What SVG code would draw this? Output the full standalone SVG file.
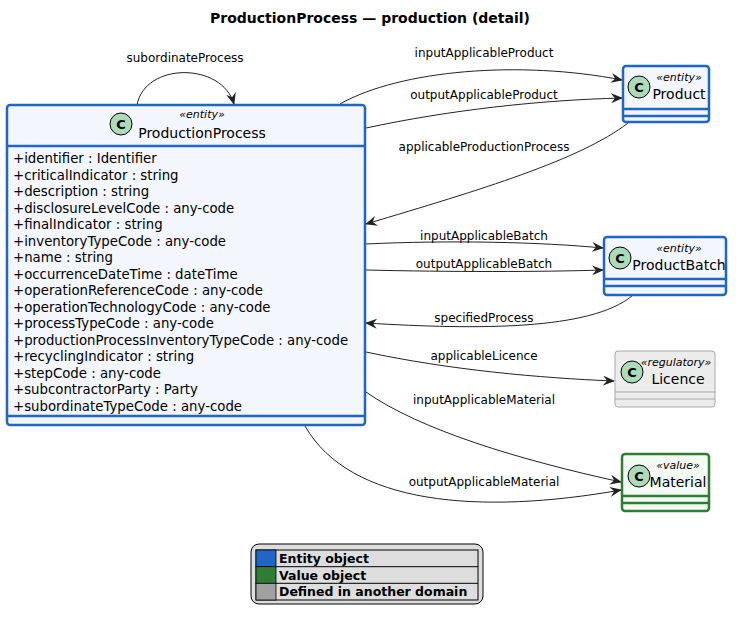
<svg xmlns="http://www.w3.org/2000/svg" width="740" height="624" viewBox="0 0 740 624">
<style>
text{font-family:"DejaVu Sans","Liberation Sans",sans-serif;fill:#000}
.t{font-size:14px;font-weight:bold}
.lbl{font-size:12px;text-anchor:middle}
.attr{font-size:13.3px}
.name{font-size:14px;text-anchor:middle}
.st{font-size:11px;font-style:italic;text-anchor:middle}
.ent{fill:#f3f6fd;stroke:#1f66c6;stroke-width:2.5}
.val{fill:#f3faf3;stroke:#2e7d32;stroke-width:2.5}
.reg{fill:#ececec;stroke:#a8a8a8;stroke-width:1}
.sepE{stroke:#1f66c6;stroke-width:2.5}
.sepV{stroke:#2e7d32;stroke-width:2.5}
.sepR{stroke:#a8a8a8;stroke-width:1}
.ci{fill:#addbb9;stroke:#000;stroke-width:1}
.cl{font-size:13px;font-weight:bold;text-anchor:middle}
.c{fill:none;stroke:#222;stroke-width:1}
.lg{font-size:12.5px;font-weight:bold}
</style>
<defs>
<marker id="a" viewBox="0 0 12 10" refX="11" refY="5" markerWidth="12" markerHeight="10" markerUnits="userSpaceOnUse" orient="auto">
<path d="M0,0 L12,5 L0,10 L4,5 Z" fill="#222"/>
</marker>
</defs>
<text class="t" x="370" y="23" text-anchor="middle">ProductionProcess — production (detail)</text>

<g id="connectors">
<path class="c" d="M137,105 C145,62 222,62 234,104" marker-end="url(#a)"/>
<text class="lbl" x="185" y="62">subordinateProcess</text>
<path class="c" d="M340,104 C400,70 520,60 622,80" marker-end="url(#a)"/>
<text class="lbl" x="484" y="57">inputApplicableProduct</text>
<path class="c" d="M366,128 C450,110 540,100 622,98" marker-end="url(#a)"/>
<text class="lbl" x="484" y="99">outputApplicableProduct</text>
<path class="c" d="M628,123 C580,160 480,190 366,224" marker-end="url(#a)"/>
<text class="lbl" x="484" y="151">applicableProductionProcess</text>
<path class="c" d="M366,244 C450,240 540,242 603,248" marker-end="url(#a)"/>
<text class="lbl" x="484" y="240">inputApplicableBatch</text>
<path class="c" d="M366,270 C450,272 540,272 603,270" marker-end="url(#a)"/>
<text class="lbl" x="484" y="268">outputApplicableBatch</text>
<path class="c" d="M632,296 C590,330 480,330 366,323" marker-end="url(#a)"/>
<text class="lbl" x="484" y="322">specifiedProcess</text>
<path class="c" d="M366,352 C450,370 540,378 614,381" marker-end="url(#a)"/>
<text class="lbl" x="484" y="360">applicableLicence</text>
<path class="c" d="M366,392 C420,430 520,460 621,482" marker-end="url(#a)"/>
<text class="lbl" x="484" y="404">inputApplicableMaterial</text>
<path class="c" d="M305,426 C350,505 480,515 621,490" marker-end="url(#a)"/>
<text class="lbl" x="484" y="486">outputApplicableMaterial</text>
</g>

<g id="ProductionProcess">
<rect class="ent" x="7" y="105" width="358" height="320" rx="3"/>
<line class="sepE" x1="7" y1="146" x2="365" y2="146"/>
<line class="sepE" x1="7" y1="416" x2="365" y2="416"/>
<circle class="ci" cx="121" cy="124" r="11"/><text class="cl" x="121" y="129">C</text>
<text class="st" x="202" y="118">«entity»</text>
<text class="name" x="202" y="138">ProductionProcess</text>
<text class="attr" x="13" y="163">+identifier : Identifier</text>
<text class="attr" x="13" y="179.5">+criticalIndicator : string</text>
<text class="attr" x="13" y="196">+description : string</text>
<text class="attr" x="13" y="212.5">+disclosureLevelCode : any-code</text>
<text class="attr" x="13" y="229">+finalIndicator : string</text>
<text class="attr" x="13" y="245.5">+inventoryTypeCode : any-code</text>
<text class="attr" x="13" y="262">+name : string</text>
<text class="attr" x="13" y="278.5">+occurrenceDateTime : dateTime</text>
<text class="attr" x="13" y="295">+operationReferenceCode : any-code</text>
<text class="attr" x="13" y="311.5">+operationTechnologyCode : any-code</text>
<text class="attr" x="13" y="328">+processTypeCode : any-code</text>
<text class="attr" x="13" y="344.5">+productionProcessInventoryTypeCode : any-code</text>
<text class="attr" x="13" y="361">+recyclingIndicator : string</text>
<text class="attr" x="13" y="377.5">+stepCode : any-code</text>
<text class="attr" x="13" y="394">+subcontractorParty : Party</text>
<text class="attr" x="13" y="410.5">+subordinateTypeCode : any-code</text>
</g>

<g id="Product">
<rect class="ent" x="623" y="66" width="86" height="56" rx="3"/>
<line class="sepE" x1="623" y1="109" x2="709" y2="109"/>
<line class="sepE" x1="623" y1="116" x2="709" y2="116"/>
<circle class="ci" cx="639" cy="87" r="11"/><text class="cl" x="639" y="92">C</text>
<text class="st" x="679" y="81">«entity»</text>
<text class="name" x="679" y="99">Product</text>
</g>

<g id="ProductBatch">
<rect class="ent" x="604" y="237" width="122" height="58" rx="3"/>
<line class="sepE" x1="604" y1="279" x2="726" y2="279"/>
<line class="sepE" x1="604" y1="286" x2="726" y2="286"/>
<circle class="ci" cx="620" cy="258" r="11"/><text class="cl" x="620" y="263">C</text>
<text class="st" x="679" y="252">«entity»</text>
<text class="name" x="679" y="270">ProductBatch</text>
</g>

<g id="Licence">
<rect class="reg" x="615" y="351" width="100" height="56" rx="3"/>
<line class="sepR" x1="615" y1="392" x2="715" y2="392"/>
<line class="sepR" x1="615" y1="399" x2="715" y2="399"/>
<circle class="ci" cx="632" cy="372" r="11"/><text class="cl" x="632" y="377">C</text>
<text class="st" x="676" y="366">«regulatory»</text>
<text class="name" x="678" y="384">Licence</text>
</g>

<g id="Material">
<rect class="val" x="622" y="454" width="87" height="57" rx="3"/>
<line class="sepV" x1="622" y1="496" x2="709" y2="496"/>
<line class="sepV" x1="622" y1="503" x2="709" y2="503"/>
<circle class="ci" cx="639" cy="476" r="11"/><text class="cl" x="639" y="481">C</text>
<text class="st" x="678" y="469">«value»</text>
<text class="name" x="678" y="487">Material</text>
</g>

<g id="legend">
<rect x="251" y="544" width="232" height="60" rx="8" fill="#dedede" stroke="#000" stroke-width="1"/>
<rect x="256" y="550" width="222" height="50" fill="none" stroke="#000" stroke-width="1"/>
<rect x="256" y="550" width="20" height="16.7" fill="#1f66c6" stroke="#000" stroke-width="0.8"/>
<rect x="256" y="566.7" width="20" height="16.6" fill="#2e7d32" stroke="#000" stroke-width="0.8"/>
<rect x="256" y="583.3" width="20" height="16.7" fill="#a0a0a0" stroke="#000" stroke-width="0.8"/>
<line x1="276" y1="566.7" x2="478" y2="566.7" stroke="#000"/>
<line x1="276" y1="583.3" x2="478" y2="583.3" stroke="#000"/>
<text class="lg" x="279" y="563">Entity object</text>
<text class="lg" x="279" y="579.5">Value object</text>
<text class="lg" x="279" y="596">Defined in another domain</text>
</g>
</svg>
